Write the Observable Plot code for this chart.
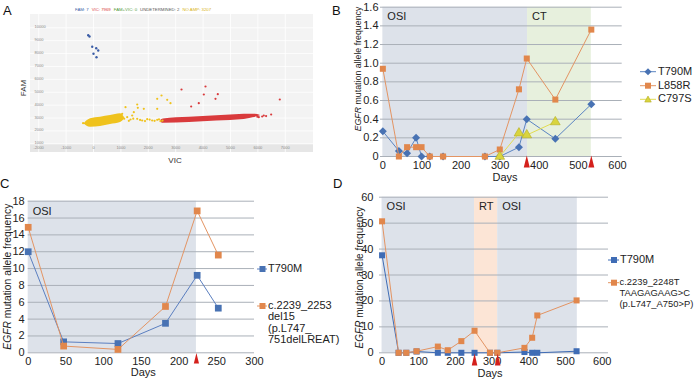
<!DOCTYPE html>
<html><head><meta charset="utf-8">
<script src="https://cdn.jsdelivr.net/npm/d3@7"></script>
<script src="https://cdn.jsdelivr.net/npm/@observablehq/plot@0.6"></script>
<style>
body{margin:0;background:#fff;font-family:"Liberation Sans",Arial,sans-serif;}
#wrap{position:relative;width:700px;height:381px;overflow:hidden;background:#fff;}
</style></head><body><div id="wrap"></div>
<script>
// ---------- Panel A (ddPCR droplet scatter) ----------
const aXTicks = [-2000,-1000,0,1000,2000,3000,4000,5000,6000,7000];
const aYTicks = [1000,2000,3000,4000,5000,6000,7000,8000,9000,10000];
const aLegendText = ["FAM: 7","VIC: 7969","FAM+VIC: 0","UNDETERMINED: 2","NO AMP: 3207"];
const aBlueX = [-193,-146,-47,99,172,0,109];
const aBlueY = [9425,9324,8525,8417,8238,7982,7718];
const aRedOutX = [3212,4088,4026,4537,4453,3565,3843,6800,6485,6157,6033,6215,5980,5850,6300];
const aRedOutY = [5213,5445,4825,4849,4491,3894,4150,4437,3273,3118,3064,3195,3100,3150,3150];
const aYelOutX = [1168,1595,1617,1836,1471,1412,2325,2482,2690,2810,2325,1230,1350,1595,1777,1960,2142,2325,2445,1047,1290,1450,1700,1880,2050,2230,2390,2520,1120,-380];
const aYelOutY = [3840,4049,3793,3715,3452,3195,4491,4747,4413,4150,3715,3064,2885,2940,2808,2909,2808,2862,2753,3327,2780,2950,2850,2760,2880,2780,2900,2800,2950,2600];
const aYelBandX  = [-340,-250,-109,255,620,985,1130];
const aYelBandLo = [2540,2390,2288,2342,2497,2652,2930];
const aYelBandHi = [2560,2760,2940,3064,3195,3327,3050];
const aRedBandX  = [2450,2550,3500,4500,5500,5900,6080];
const aRedBandLo = [2700,2590,2660,2770,2890,3060,3150];
const aRedBandHi = [2800,2930,3060,3170,3290,3300,3210];

// ---------- Panel B ----------
const bDays = [0,41,62,85,99,120,154,261,299,348,368,441,533];
const bT790M = [0.27,0.06,0.035,0.2,0,0,0,0,0,0.1,0.4,0.19,0.56];
const bL858R = [0.94,0,0.1,0.1,0.1,0,0,0,0.075,0.72,1.05,0.61,1.36];
const bC797SDays = [299,348,368,441];
const bC797S = [0,0.25,0.23,0.37];
const bPhaseNames = ["OSI","CT"];
const bPhaseStart = [0,370];
const bPhaseEnd = [370,533];
const bArrows = [368,533];
const bYTicks = [0,0.2,0.4,0.6,0.8,1.0,1.2,1.4,1.6];
const bXTicks = [0,100,200,300,400,500,600];

// ---------- Panel C ----------
const cDays = [0,47,119,182,224,252];
const cT790M = [12.0,1.3,1.1,3.5,9.2,5.3];
const cDel15 = [14.9,0.8,0.4,5.5,16.85,11.6];
const cPhaseNames = ["OSI"];
const cPhaseStart = [0];
const cPhaseEnd = [223];
const cArrows = [223];
const cYTicks = [0,2,4,6,8,10,12,14,16,18];
const cXTicks = [0,50,100,150,200,250,300];

// ---------- Panel D ----------
const dDays = [0,45,66,94,152,179,216,252,294,314,388,409,423,530];
const dT790M = [37.6,0,0,0.5,0,0,0,0,0,0,0.3,0,0,0.6];
const dDelins = [50.7,0,0,0.6,2.4,1.0,4.5,8.5,0,0,1.9,5.8,14.4,20.2];
const dPhaseNames = ["OSI","RT","OSI"];
const dPhaseStart = [0,252,315];
const dPhaseEnd = [252,315,532];
const dArrows = [252,315];
const dYTicks = [0,10,20,30,40,50,60];
const dXTicks = [0,100,200,300,400,500,600];

const phaseColor = {OSI:"#dde2ea", CT:"#e7f0dd", RT:"#fce5d6"};
const BLUE = "#4872b3", ORANGE = "#e1874c", YEL = "#d9d43e";
const FONT = "'Liberation Sans', Arial, sans-serif";

const wrap = document.getElementById("wrap");
function place(el, left, top){ el.style.position="absolute"; el.style.left=left+"px"; el.style.top=top+"px"; wrap.appendChild(el); }
const NS = "http://www.w3.org/2000/svg";
function svgEl(tag, attrs, parent){ const e=document.createElementNS(NS,tag); for(const k in attrs) e.setAttribute(k,attrs[k]); if(parent) parent.appendChild(e); return e; }

// ---------- Panel A plot ----------
{
  const blue = aBlueX.map((x,i)=>({x, y:aBlueY[i]}));
  const redOut = aRedOutX.map((x,i)=>({x, y:aRedOutY[i]}));
  const yelOut = aYelOutX.map((x,i)=>({x, y:aYelOutY[i]}));
  const yelBand = aYelBandX.map((x,i)=>({x, lo:aYelBandLo[i], hi:aYelBandHi[i]}));
  const redBand = aRedBandX.map((x,i)=>({x, lo:aRedBandLo[i], hi:aRedBandHi[i]}));
  const p = Plot.plot({
    width: 283, height: 138, margin: 0,
    x: {domain: [-2300, 8030], axis: null}, y: {domain: [325, 11032], axis: null},
    style: {fontFamily: FONT, background: "linear-gradient(#f3f3f3 0 130px, #e6e6e6 130px)", overflow: "visible"},
    marks: [
      Plot.ruleX(aXTicks, {x: d=>d, stroke: "#ffffff", strokeWidth: 0.8}),
      Plot.ruleY(aYTicks, {y: d=>d, stroke: "#ffffff", strokeWidth: 0.8}),
      Plot.text(aXTicks, {x: d=>d, text: d=>String(d), frameAnchor: "bottom", dy: -3.5, fontSize: 4, fill: "#888"}),
      Plot.text(aYTicks, {y: d=>d, text: d=>String(d), frameAnchor: "left", dx: 4, dy: -0.8, fontSize: 4, fill: "#888"}),
      Plot.areaY(yelBand, {x: "x", y1: "lo", y2: "hi", fill: "#efc21c", curve: "monotone-x"}),
      Plot.areaY(redBand, {x: "x", y1: "lo", y2: "hi", fill: "#d93a3c", curve: "monotone-x"}),
      Plot.dot(yelOut, {x: "x", y: "y", r: 1.1, fill: "#efc21c"}),
      Plot.dot(redOut, {x: "x", y: "y", r: 1.1, fill: "#d93a3c"}),
      Plot.dot(blue, {x: "x", y: "y", r: 1.2, fill: "#3b5da6"})
    ]
  });
  place(p, 30, 14);
  const s = svgEl("svg", {width: 700, height: 180, style: "position:absolute;left:0;top:0;overflow:visible"});
  const lg = svgEl("text", {x: 75, y: 10.5, "font-size": 4.3, "font-family": FONT}, s);
  const lc = ["#3b5da6","#d93a3c","#4f9a3a","#555","#d8b317"];
  aLegendText.forEach((t,i)=>{ const ts = svgEl("tspan", {fill: lc[i], dx: i? 3 : 0}, lg); ts.textContent = t; });
  const fam = svgEl("text", {transform: "translate(25.5,88) rotate(-90)", "text-anchor": "middle", "font-size": 8, fill: "#333", "font-family": FONT}, s); fam.textContent = "FAM";
  const vic = svgEl("text", {x: 175, y: 163, "text-anchor": "middle", "font-size": 8, fill: "#333", "font-family": FONT}, s); vic.textContent = "VIC";
  const A = svgEl("text", {x: 3, y: 15, "font-size": 13, fill: "#111", "font-family": FONT}, s); A.textContent = "A";
  const B = svgEl("text", {x: 332, y: 15, "font-size": 13, fill: "#111", "font-family": FONT}, s); B.textContent = "B";
  wrap.appendChild(s);
}

// ---------- line panel helper ----------
function linePanel(o){
  const phases = o.names.map((n,i)=>({name:n, start:o.starts[i], end:o.ends[i]}));
  const marks = [
    Plot.rect(phases, {x1: "start", x2: "end", y1: o.yDomain[0], y2: o.yDomain[1], fill: d=>phaseColor[d.name]}),
    Plot.ruleY(o.yTicks, {y: d=>d, stroke: "#aab0b8", strokeWidth: 1}),
    Plot.axisY({ticks: o.yTicks, tickSize: 0, tickPadding: o.padY, tickFormat: o.yFmt, label: null, fontSize: 11, fill: "#222"}),
    Plot.axisX({ticks: o.xTicks, tickSize: 0, tickPadding: o.padX, label: null, fontSize: 11, fill: "#222"}),
    Plot.text(phases, {x: "start", text: "name", frameAnchor: "top", textAnchor: "start", lineAnchor: "middle", dx: 4.5, dy: o.phaseDy, fontSize: 11, fill: "#222"})
  ];
  for (const s of o.series){
    const rows = s.days.map((d,i)=>({d, v:s.vals[i]}));
    marks.push(Plot.line(rows, {x: "d", y: "v", stroke: s.line, strokeWidth: 1}));
    marks.push(Plot.dot(rows, {x: "d", y: "v", symbol: s.symbol, r: s.r, fill: s.color, stroke: s.edge || "none", strokeWidth: 0.6}));
  }
  marks.push(Plot.vector(o.arrows, {x: d=>d, y: o.yDomain[0], length: o.arrowLen, rotate: 0, anchor: "start", shape: "spike", r: o.arrowR, fill: "#d4201c", stroke: "none", dy: o.arrowDy}));
  return Plot.plot({
    width: o.width, height: o.height,
    marginLeft: o.mL, marginRight: o.mR, marginTop: o.mT, marginBottom: o.mB,
    x: {domain: o.xDomain}, y: {domain: o.yDomain},
    style: {fontFamily: FONT, fontSize: "11px", color: "#222", background: "transparent", overflow: "visible"},
    marks
  });
}

function yLabel(parent, cx, cy, size){
  const t = svgEl("text", {transform: `translate(${cx},${cy}) rotate(-90)`, "text-anchor": "middle", "dominant-baseline": "middle", "font-size": size, fill: "#222", "font-family": FONT}, parent);
  const i = svgEl("tspan", {"font-style": "italic"}, t); i.textContent = "EGFR";
  const r = svgEl("tspan", {}, t); r.textContent = " mutation allele frequency";
}
function plainText(parent, x, y, txt, size, anchor){
  const t = svgEl("text", {x, y, "text-anchor": anchor || "middle", "dominant-baseline": "middle", "font-size": size, fill: "#222", "font-family": FONT}, parent);
  t.textContent = txt; return t;
}
function legendItem(parent, x1, x2, mx, y, color, line, shape, size, lines, tx, lh, fs){
  svgEl("line", {x1, x2, y1: y, y2: y, stroke: line, "stroke-width": 1}, parent);
  const h = size/2;
  if (shape === "square") svgEl("rect", {x: mx-h, y: y-h, width: size, height: size, fill: color}, parent);
  else if (shape === "diamond") svgEl("path", {d: `M${mx},${y-h-0.8}L${mx+h+0.8},${y}L${mx},${y+h+0.8}L${mx-h-0.8},${y}Z`, fill: color}, parent);
  else svgEl("path", {d: `M${mx},${y-h-0.5}L${mx+h+0.5},${y+h}L${mx-h-0.5},${y+h}Z`, fill: color, stroke: "#b3ad22", "stroke-width": 0.6}, parent);
  lines.forEach((l,i)=> plainText(parent, tx, y + i*lh, l, fs || 11, "start"));
}

// ---------- Panel B ----------
{
  const p = linePanel({
    width: 350, height: 190, mL: 30, mR: 78.3, mT: 6.7, mB: 34,
    xDomain: [-6, 612], yDomain: [0, 1.6], yTicks: bYTicks, xTicks: bXTicks,
    yFmt: d => d === 0 ? "0" : d.toFixed(1), padY: 2, padX: 5,
    names: bPhaseNames, starts: bPhaseStart, ends: bPhaseEnd, phaseDy: 9,
    arrows: bArrows, arrowLen: 12, arrowR: 3, arrowDy: 11,
    series: [
      {days: bDays, vals: bT790M, color: BLUE, line: "#5a84c2", symbol: "diamond2", r: 3.6},
      {days: bDays, vals: bL858R, color: ORANGE, line: "#e39463", symbol: "square", r: 3.4},
      {days: bC797SDays, vals: bC797S, color: YEL, line: "#e2dc52", symbol: "triangle", r: 3.6, edge: "#b3ad22"}
    ]
  });
  place(p, 350, 0);
}

// ---------- Panel C ----------
{
  const p = linePanel({
    width: 350, height: 201, mL: 27.7, mR: 96, mT: 20.7, mB: 28.7,
    xDomain: [0, 300], yDomain: [0, 18], yTicks: cYTicks, xTicks: cXTicks,
    yFmt: d => String(d), padY: 3.5, padX: 4,
    names: cPhaseNames, starts: cPhaseStart, ends: cPhaseEnd, phaseDy: 10,
    arrows: cArrows, arrowLen: 10.5, arrowR: 2.6, arrowDy: 10.7,
    series: [
      {days: cDays, vals: cT790M, color: BLUE, line: "#5b7fc0", symbol: "square", r: 3.8},
      {days: cDays, vals: cDel15, color: ORANGE, line: "#e39463", symbol: "square", r: 3.8}
    ]
  });
  place(p, 0, 180);
}

// ---------- Panel D ----------
{
  const p = linePanel({
    width: 350, height: 201, mL: 29, mR: 92, mT: 16.7, mB: 28.7,
    xDomain: [-7, 617], yDomain: [0, 60], yTicks: dYTicks, xTicks: dXTicks,
    yFmt: d => String(d), padY: 6, padX: 4,
    names: dPhaseNames, starts: dPhaseStart, ends: dPhaseEnd, phaseDy: 9.3,
    arrows: dArrows, arrowLen: 12, arrowR: 2.8, arrowDy: 12.7,
    series: [
      {days: dDays, vals: dT790M, color: "#3f6cb5", line: "#3f6cb5", symbol: "square", r: 3.4},
      {days: dDays, vals: dDelins, color: ORANGE, line: "#e39463", symbol: "square", r: 3.4}
    ]
  });
  place(p, 350, 180);
}

// ---------- overlay text: axis titles, legends, panel letters ----------
{
  const s = svgEl("svg", {width: 700, height: 381, style: "position:absolute;left:0;top:0;overflow:visible;pointer-events:none"});
  yLabel(s, 358.5, 69, 8.8);
  plainText(s, 505, 178.5, "Days", 11);
  legendItem(s, 640, 656, 648, 71.7, BLUE, "#5a84c2", "diamond", 5.5, ["T790M"], 658, 0);
  legendItem(s, 640, 656, 648, 85.7, ORANGE, "#e39463", "square", 6, ["L858R"], 658, 0);
  legendItem(s, 640, 656, 648, 99.3, YEL, "#e2dc52", "triangle", 5.5, ["C797S"], 658, 0);
  yLabel(s, 7.5, 276.7, 10.3);
  plainText(s, 143.3, 373.3, "Days", 11);
  legendItem(s, 257, 267, 262.5, 269, BLUE, "#5b7fc0", "square", 6, ["T790M"], 268, 0);
  legendItem(s, 257, 267, 262.5, 306, ORANGE, "#e39463", "square", 6, ["c.2239_2253","del15","(p.L747_","751delLREAT)"], 268, 11.3);
  yLabel(s, 360, 277.5, 10);
  plainText(s, 490, 374.3, "Days", 11);
  legendItem(s, 608, 619, 614, 260, "#3f6cb5", "#3f6cb5", "square", 6, ["T790M"], 620, 0);
  legendItem(s, 608, 619, 614, 282.7, ORANGE, "#e39463", "square", 6, ["c.2239_2248T","TAAGAGAAG>C","(p.L747_A750>P)"], 619.5, 10.8, 9.4);
  const C = svgEl("text", {x: 0, y: 188, "font-size": 13, fill: "#111", "font-family": FONT}, s); C.textContent = "C";
  const D = svgEl("text", {x: 333, y: 188, "font-size": 13, fill: "#111", "font-family": FONT}, s); D.textContent = "D";
  wrap.appendChild(s);
}
</script></body></html>
